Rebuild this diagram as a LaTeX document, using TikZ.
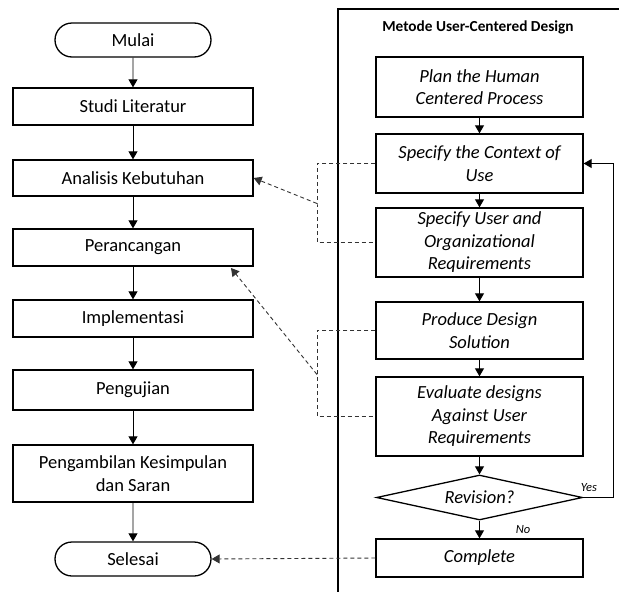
\documentclass[tikz,border=0pt]{standalone}
\usepackage{fontspec}
\setmainfont{Carlito}
\usetikzlibrary{arrows.meta,shapes.misc,shapes.geometric}
\tikzset{
  procbox/.style={draw,line width=1.3pt,align=center,inner sep=1pt,
    font=\fontsize{18.5}{22.5}\selectfont},
  termbox/.style={procbox,rounded rectangle,minimum width=158pt,minimum height=34pt},
  ucdbox/.style={procbox,minimum width=207pt,font=\fontsize{18.5}{22.5}\selectfont\itshape},
  flow/.style={line width=0.9pt,-{Triangle[length=8pt,width=9pt]}},
  dashline/.style={line width=0.9pt,draw=black!80,dash pattern=on 4pt off 3pt},
  dashflow/.style={dashline,-{Triangle[length=8pt,width=9pt]}}
}
\newcommand{\fstep}[2]{\draw[flow] (#1)--(#2);}

\begin{document}
\begin{tikzpicture}[x=1pt,y=-1pt]
  \useasboundingbox (0,0) rectangle (619,592);

  % frame of the UCD method
  \draw[line width=1.6pt] (338,592) -- (338,9) -- (619,9);
  \node[font=\fontsize{15.3}{18}\selectfont\bfseries] (ttl) at (478,27) {Metode User-Centered Design};

  % research steps
  \node[termbox] (mulai) at (133,40) {Mulai};
  \node[procbox,minimum width=240pt,minimum height=37pt] (studi) at (133,106.5) {Studi Literatur};
  \node[procbox,minimum width=240pt,minimum height=36pt] (anl) at (133,178) {Analisis Kebutuhan};
  \node[procbox,minimum width=240pt,minimum height=37pt] (des) at (133,247.5) {Perancangan};
  \node[procbox,minimum width=240pt,minimum height=37pt] (impl) at (133,318.5) {Implementasi};
  \node[procbox,minimum width=240pt,minimum height=40pt] (test) at (133,390) {Pengujian};
  \node[procbox,minimum width=240pt,minimum height=57pt] (concl) at (133,473.5) {Pengambilan Kesimpulan\\dan Saran};
  \node[termbox] (selesai) at (133,559) {Selesai};

  % UCD steps
  \node[ucdbox,minimum height=60pt] (plan) at (479.5,87) {Plan the Human\\Centered Process};
  \node[ucdbox,minimum height=59pt] (ctx) at (479.5,163.5) {Specify the Context of\\Use};
  \node[ucdbox,minimum height=69pt] (req) at (479.5,242.5) {Specify User and\\Organizational\\Requirements};
  \node[ucdbox,minimum height=57pt] (sol) at (479.5,330.5) {Produce Design\\Solution};
  \node[ucdbox,minimum height=79pt] (eval) at (479.5,416.5) {Evaluate designs\\Against User\\Requirements};
  \node[procbox,diamond,aspect=4.5,inner sep=0pt,minimum width=206pt,minimum height=45pt,
    font=\fontsize{18.5}{22.5}\selectfont\itshape] (rev) at (479.5,497.5) {Revision?};
  \node[ucdbox,minimum height=38pt] (done) at (479.5,558) {Complete};

  \coordinate (loop) at (613,497.5);
  \coordinate (b1) at (317,203.5);
  \coordinate (b2) at (317,374.5);
  \coordinate (t2) at (231,268);

  % solid arrows
  \fstep{mulai}{studi}\fstep{studi}{anl}\fstep{anl}{des}
  \fstep{des}{impl}\fstep{impl}{test}\fstep{test}{concl}\fstep{concl}{selesai}
  \fstep{plan}{ctx}\fstep{ctx}{req}\fstep{req}{sol}\fstep{sol}{eval}
  \fstep{eval}{rev}\fstep{rev}{done}
  \draw[flow] (rev.east) -- (loop) |- (ctx.east);
  \node[font=\fontsize{12.5}{14}\selectfont\itshape] (yes) at (589,488) {Yes};
  \node[font=\fontsize{12.5}{14}\selectfont\itshape] (no) at (523,530) {No};

  % dashed links
  \draw[dashline] (ctx.west) -| (b1) |- (req.west);
  \draw[dashline] (sol.west) -| (b2) |- (eval.west);
  \draw[dashflow] (b1) -- (anl.east);
  \draw[dashflow] (b2) -- (t2);
  \draw[dashflow] (done.west) -- (selesai.east);
\end{tikzpicture}
\end{document}
